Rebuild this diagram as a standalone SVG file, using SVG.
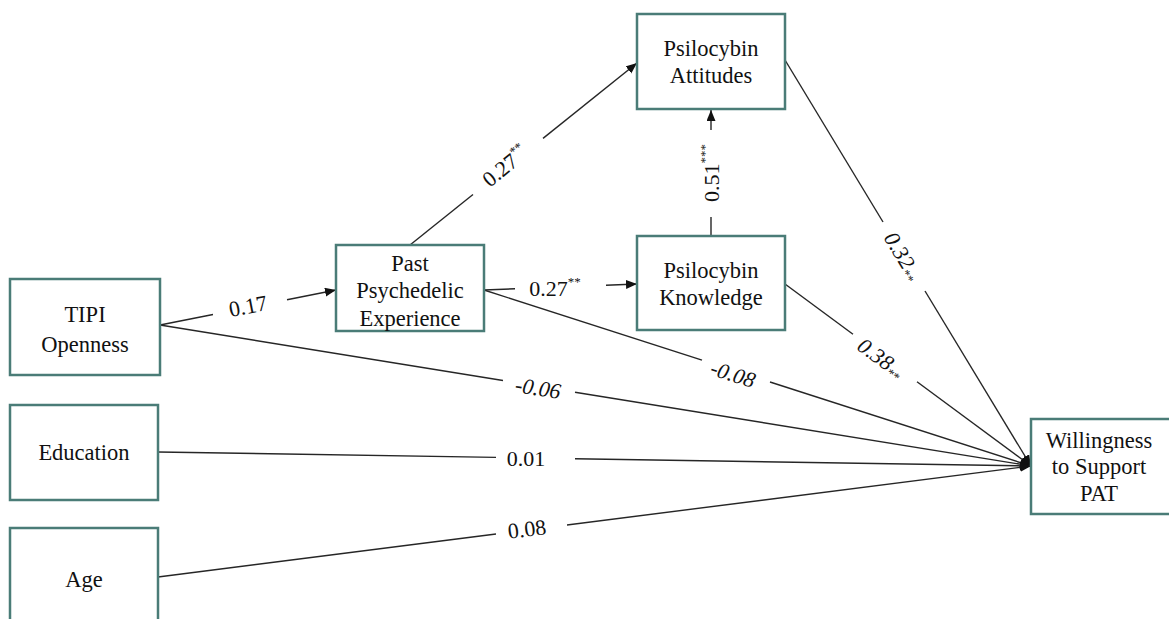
<svg xmlns="http://www.w3.org/2000/svg" width="1169" height="619" viewBox="0 0 1169 619">
<defs>
<marker id="arr" markerUnits="userSpaceOnUse" markerWidth="12" markerHeight="10" refX="11" refY="4.5" orient="auto">
<path d="M0,0 L11,4.5 L0,9 Z" fill="#111"/>
</marker>
<style>
text{font-family:'Liberation Serif','Times New Roman',Tinos,'Noto Serif','DejaVu Serif',FreeSerif,serif;fill:#111}
.box{fill:#fff;stroke:#4a7c77;stroke-width:2.5}
.nt{font-size:22.5px;text-anchor:middle}
.ln{stroke:#262626;stroke-width:1.4;fill:none}
.lb{font-size:22px;text-anchor:middle;dominant-baseline:central}
.it{font-style:italic}
.sup{font-size:13px}
</style>
</defs>
<rect width="1169" height="619" fill="#fff"/>
<g id="connectors">
<line class="ln" x1="160" y1="325" x2="213" y2="314.5"/>
<line class="ln" x1="287" y1="299.8" x2="336" y2="290" marker-end="url(#arr)"/>
<line class="ln" x1="410" y1="245" x2="473" y2="194.5"/>
<line class="ln" x1="543" y1="138.4" x2="637" y2="63" marker-end="url(#arr)"/>
<line class="ln" x1="484" y1="290" x2="515" y2="288.8"/>
<line class="ln" x1="606" y1="285.2" x2="637" y2="284" marker-end="url(#arr)"/>
<line class="ln" x1="711" y1="236" x2="711" y2="217"/>
<line class="ln" x1="711" y1="130" x2="711" y2="110" marker-end="url(#arr)"/>
<line class="ln" x1="785" y1="60" x2="883" y2="222"/>
<line class="ln" x1="925" y1="291" x2="1031" y2="466" marker-end="url(#arr)"/>
<line class="ln" x1="785" y1="284" x2="853" y2="334.3"/>
<line class="ln" x1="917" y1="381.7" x2="1031" y2="466" marker-end="url(#arr)"/>
<line class="ln" x1="484" y1="290" x2="702" y2="360.1"/>
<line class="ln" x1="770" y1="382" x2="1031" y2="466" marker-end="url(#arr)"/>
<line class="ln" x1="160" y1="325" x2="503" y2="380.5"/>
<line class="ln" x1="575" y1="392.2" x2="1031" y2="466" marker-end="url(#arr)"/>
<line class="ln" x1="158" y1="452" x2="496" y2="457.4"/>
<line class="ln" x1="575" y1="458.7" x2="1031" y2="466" marker-end="url(#arr)"/>
<line class="ln" x1="158" y1="577" x2="496" y2="534"/>
<line class="ln" x1="567" y1="525" x2="1031" y2="466" marker-end="url(#arr)"/>
<text class="lb" transform="translate(248,306) rotate(-11)">0.17</text>
<text class="lb" transform="translate(505,166) rotate(-38.8)">0.27<tspan class="sup" dy="-7">**</tspan></text>
<text class="lb" transform="translate(555,288)">0.27<tspan class="sup" dy="-7">**</tspan></text>
<text class="lb" transform="translate(711,173) rotate(-90)">0.51<tspan class="sup" dy="-7">***</tspan></text>
<text class="lb it" transform="translate(903,256) rotate(58.8)">0.32<tspan class="sup" dy="6">**</tspan></text>
<text class="lb it" transform="translate(881,358) rotate(36.5)">0.38<tspan class="sup" dy="6">**</tspan></text>
<text class="lb it" transform="translate(733,374) rotate(17.8)">-0.08</text>
<text class="lb it" transform="translate(538,388) rotate(9.2)">-0.06</text>
<text class="lb" transform="translate(526,458)">0.01</text>
<text class="lb" transform="translate(527,529) rotate(-7)">0.08</text>
</g>
<g id="tipi">
<rect class="box" x="10" y="279" width="150" height="96"/>
<text class="nt" x="85" y="322">TIPI</text>
<text class="nt" x="85" y="352">Openness</text>
</g>
<g id="education">
<rect class="box" x="10" y="405" width="148" height="95"/>
<text class="nt" x="84" y="460">Education</text>
</g>
<g id="age">
<rect class="box" x="10" y="528" width="148" height="95"/>
<text class="nt" x="84" y="587">Age</text>
</g>
<g id="past">
<rect class="box" x="336" y="245" width="148" height="86"/>
<text class="nt" x="410" y="271">Past</text>
<text class="nt" x="410" y="298">Psychedelic</text>
<text class="nt" x="410" y="326">Experience</text>
</g>
<g id="attitudes">
<rect class="box" x="637" y="14" width="148" height="95"/>
<text class="nt" x="711" y="56">Psilocybin</text>
<text class="nt" x="711" y="83">Attitudes</text>
</g>
<g id="knowledge">
<rect class="box" x="637" y="236" width="148" height="94"/>
<text class="nt" x="711" y="278">Psilocybin</text>
<text class="nt" x="711" y="305">Knowledge</text>
</g>
<g id="willingness">
<rect class="box" x="1031" y="419" width="145" height="95"/>
<text class="nt" x="1099" y="448">Willingness</text>
<text class="nt" x="1099" y="474">to Support</text>
<text class="nt" x="1099" y="501">PAT</text>
</g>
</svg>
